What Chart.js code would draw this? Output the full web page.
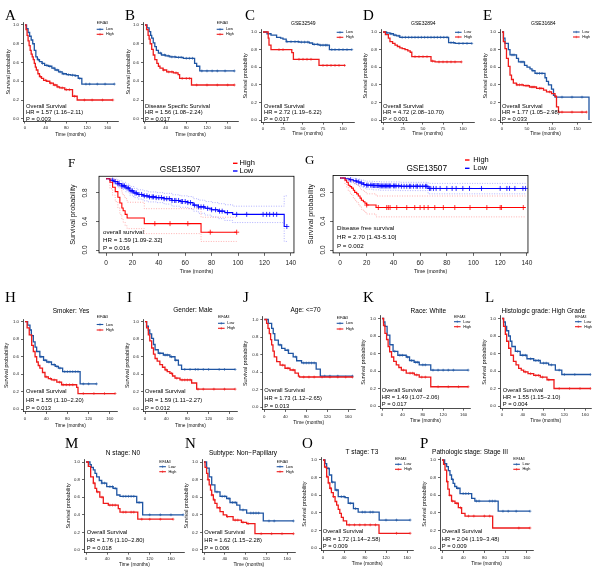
<!DOCTYPE html>
<html><head><meta charset="utf-8">
<script src="https://cdn.jsdelivr.net/npm/chart.js@4.4.1/dist/chart.umd.min.js"></script>
<style>
html,body{margin:0;padding:0;background:#fff;}
#wrap{position:relative;width:600px;height:573px;overflow:hidden;background:#fff;}
#wrap canvas{position:absolute;}
</style></head>
<body><div id="wrap"></div>
<script>
// ================= DATA =================
// Each curve: T = times (months), S = survival after that time, C = censor times
const A_lowT=[0,3,6,9,12,15,18,21,24,28,33,38,45,52,58,65,72,80,88,96,103,110,173];
const A_lowS=[1,0.96,0.92,0.88,0.84,0.80,0.73,0.66,0.63,0.61,0.59,0.57,0.56,0.54,0.52,0.50,0.48,0.47,0.465,0.46,0.43,0.37,0.37];
const A_lowC=[26,34,42,48,56,62,68,75,84,92,98,106,118,125,140,155,173];
const A_highT=[0,2,4,6,8,10,12,14,16,18,20,22,25,28,32,36,42,48,55,62,67,77,92,101,170];
const A_highS=[1,0.95,0.89,0.83,0.78,0.73,0.69,0.66,0.63,0.59,0.55,0.52,0.48,0.45,0.43,0.41,0.40,0.38,0.36,0.34,0.33,0.31,0.24,0.20,0.20];
const A_highC=[30,40,50,58,64,72,80,86,96,115,130,150,170];

const B_lowT=[0,4,8,11,13,16,19,22,26,32,40,48,60,74,96,100,106,173];
const B_lowS=[1,0.97,0.93,0.89,0.86,0.81,0.77,0.73,0.70,0.68,0.67,0.66,0.655,0.645,0.59,0.56,0.51,0.51];
const B_lowC=[30,38,45,52,58,65,70,80,86,92,110,120,130,140,155,173];
const B_highT=[0,3,6,8,10,13,16,19,23,26,29,35,42,55,64,67,90,173];
const B_highS=[1,0.95,0.89,0.85,0.80,0.74,0.68,0.63,0.59,0.56,0.54,0.52,0.50,0.49,0.47,0.43,0.36,0.36];
const B_highC=[36,46,52,60,72,80,86,100,120,140,160,173];

const C_lowT=[0,5,10,17,22,25,29,45,58,62,70,83,111];
const C_lowS=[1,0.98,0.965,0.94,0.93,0.92,0.89,0.885,0.875,0.86,0.85,0.80,0.80];
const C_lowC=[30,35,40,44,48,52,56,64,68,72,75,78,80,86,90,95,100,105,111];
const C_highT=[0,6.5,7.5,10,36,38,70,102.5];
const C_highS=[1,0.93,0.85,0.80,0.765,0.69,0.62,0.62];
const C_highC=[20,25,45,50,55,60,75,80,85,90,95,102];

const D_lowT=[0,4,8.7,13,17,21,82,90,111];
const D_lowS=[1,0.99,0.98,0.965,0.955,0.94,0.88,0.87,0.87];
const D_lowC=[5,10,15,20,24,28,32,36,40,44,48,52,56,60,64,68,72,76,80,85,88,95,100,105,111];
const D_highT=[0,3,6.7,8.7,12,15,18,21,24,27.5,31,34,36,60,65,98];
const D_highS=[1,0.97,0.93,0.89,0.87,0.85,0.835,0.82,0.81,0.80,0.785,0.77,0.72,0.67,0.66,0.66];
const D_highC=[40,45,50,55,62,70,75,80,85,90,98];

const E_lowT=[0,3,6,12.7,16,29,33,45,50,56,60,66,86,89,93,99,103,106,174];
const E_lowS=[1,0.93,0.87,0.80,0.74,0.70,0.66,0.62,0.60,0.58,0.56,0.53,0.48,0.44,0.40,0.35,0.28,0.26,0];
const E_lowC=[20,24,38,42,62,70,75,80,120,140,160];
const E_highT=[0,2.7,6,9,12.7,16,19,22.7,29,43,55,69,83,89,99,106,109,113,169];
const E_highS=[1,0.89,0.81,0.70,0.61,0.51,0.46,0.42,0.40,0.39,0.375,0.36,0.34,0.32,0.30,0.27,0.15,0.09,0.09];
const E_highC=[30,35,40,48,52,60,64,75,78,95,120,140,160,169];

// F / G : GSE13507 with confidence limits (U = upper, L = lower)
const F_lowT=[0,3,6,9,12,15,18,21,24,28,32,38,44,50,56,62,66,70,75,80,85,90,96,135,137];
const F_lowS=[1,0.98,0.96,0.93,0.90,0.87,0.83,0.80,0.78,0.76,0.745,0.735,0.72,0.695,0.68,0.665,0.63,0.605,0.585,0.565,0.545,0.525,0.50,0.33,0.33];
const F_lowU=[1,1,0.995,0.975,0.95,0.925,0.89,0.865,0.845,0.83,0.815,0.805,0.795,0.775,0.76,0.75,0.72,0.70,0.68,0.665,0.65,0.635,0.615,0.76,0.76];
const F_lowL=[1,0.955,0.925,0.885,0.85,0.815,0.77,0.735,0.715,0.69,0.675,0.665,0.645,0.615,0.60,0.58,0.545,0.515,0.49,0.465,0.44,0.415,0.385,0.12,0.12];
const F_lowC=[5,7,9,10,12,13,14,16,17,19,20,22,23,25,27,29,31,33,35,36,38,40,42,44,46,48,50,52,53,55,57,58,60,62,64,67,70,72,74,77,80,83,86,88,92,99,106.6,119,121.7,124,126.8,129.3,137];
const F_highT=[0,3,5,7,9,10.5,12,13,14.5,16,29,72,99];
const F_highS=[1,0.95,0.88,0.82,0.74,0.66,0.59,0.55,0.50,0.45,0.37,0.25,0.25];
const F_highU=[1,1,1,0.98,0.92,0.86,0.80,0.76,0.72,0.67,0.58,0.46,0.46];
const F_highL=[1,0.86,0.77,0.68,0.59,0.50,0.43,0.39,0.34,0.30,0.23,0.12,0.12];
const F_highC=[37,48.5,62,79,99];

const G_lowT=[0,4,7,10,12.5,15,17.5,20,25,30,45,66,139];
const G_lowS=[1,0.99,0.975,0.96,0.945,0.93,0.91,0.90,0.895,0.89,0.885,0.855,0.855];
const G_lowU=[1,1,1,0.995,0.985,0.975,0.96,0.955,0.95,0.945,0.94,0.925,0.925];
const G_lowL=[1,0.97,0.945,0.92,0.90,0.88,0.86,0.845,0.835,0.83,0.825,0.78,0.78];
const G_lowC=[8,12,14,16,18,20,21,23,24,25,26,27,28,29,30,31,32,33,34,35,36,37,38,40,41,42,44,46,48,50,52,53,55,57,58,60,62,64,65,67,68,70,72,75,80,84,87,92,97,106,120,125,127,131,137,139];
const G_highT=[0,3.7,5,6.2,7.5,8.7,10,11,12.5,13.7,15,16,17.5,18.7,20,27,139];
const G_highS=[1,0.97,0.94,0.90,0.88,0.86,0.83,0.80,0.78,0.75,0.72,0.69,0.67,0.65,0.625,0.59,0.59];
const G_highU=[1,1,1,0.99,0.975,0.96,0.94,0.92,0.90,0.88,0.86,0.835,0.815,0.80,0.78,0.75,0.75];
const G_highL=[1,0.91,0.87,0.82,0.79,0.76,0.72,0.69,0.66,0.63,0.60,0.565,0.54,0.52,0.50,0.46,0.46];
const G_highC=[20,28.7,35,36.2,37.5,42.5,50,56,60,63,66,71,77.4,86,97.4,110,120,121,137.3];

const H_lowT=[0,5,9.4,12,15.7,19,22,28,35,41,50,57,63,71,104,135];
const H_lowS=[1,0.96,0.905,0.84,0.77,0.71,0.66,0.60,0.56,0.54,0.51,0.49,0.47,0.43,0.29,0.29];
const H_lowC=[30,38,45,55,60,66,75,80,85,90,95,100,110,120,135];
const H_highT=[0,4,8,12.6,15.7,19,22,25,28,33,37.7,44,50,60,69,97.5,100,170];
const H_highS=[1,0.93,0.85,0.73,0.66,0.60,0.54,0.50,0.47,0.42,0.37,0.35,0.335,0.31,0.28,0.25,0.18,0.18];
const H_highC=[40,48,55,65,72,78,84,90,110,130,150,170];

const I_lowT=[0,3,6.3,9,12.6,16,19,25,34.6,47,56.6,63,69,170];
const I_lowS=[1,0.95,0.905,0.86,0.81,0.74,0.68,0.64,0.62,0.60,0.56,0.505,0.455,0.455];
const I_lowC=[28,38,42,50,58,75,85,95,100,110,120,140,150,170];
const I_highT=[0,3,6.3,9,12.6,16,19,23,28,33,37.7,42,47,52,56.6,66,88,97.5,170];
const I_highS=[1,0.93,0.85,0.78,0.70,0.63,0.58,0.55,0.51,0.48,0.45,0.43,0.41,0.38,0.355,0.335,0.30,0.23,0.23];
const I_highC=[40,50,60,70,75,80,85,100,110,130,150,170];

const J_lowT=[0,7.6,14,17,20,26.7,33,39.4,46,55,61.6,71,98.8,106.7,168];
const J_lowS=[1,0.955,0.90,0.84,0.765,0.71,0.67,0.65,0.615,0.575,0.53,0.505,0.435,0.355,0.355];
const J_lowC=[30,45,60,75,80,85,90,95,115,125,140,168];
const J_highT=[0,4.4,7,9.5,12,14,16.5,19,23.6,30,39.4,49,58.5,65,67,168];
const J_highS=[1,0.955,0.90,0.84,0.77,0.71,0.64,0.575,0.52,0.48,0.445,0.425,0.39,0.355,0.345,0.345];
const J_highC=[35,45,55,75,85,95,110,125,140,155,168];

const K_lowT=[0,3,5.8,10,15.4,21.7,31,47.5,54,63,73,95.6,169];
const K_lowS=[1,0.96,0.91,0.81,0.70,0.625,0.58,0.56,0.52,0.50,0.47,0.41,0.41];
const K_lowC=[25,35,40,50,58,66,70,80,85,100,110,120,130,140,169];
const K_highT=[0,3,5.8,9,12,15,18.7,23,28,33,38,47.5,63.5,73,95.6,169];
const K_highS=[1,0.92,0.83,0.76,0.68,0.62,0.56,0.51,0.47,0.44,0.41,0.375,0.355,0.33,0.22,0.22];
const K_highC=[42,55,60,68,78,85,110,130,150,169];

const L_lowT=[0,3,6.4,9,12.8,16,19,25.6,35,48,61,73.6,89.6,102.6,115,170];
const L_lowS=[1,0.96,0.91,0.86,0.80,0.74,0.68,0.625,0.58,0.54,0.52,0.49,0.47,0.41,0.36,0.36];
const L_lowC=[30,40,45,55,65,70,80,85,95,110,120,140,170];
const L_highT=[0,3,6.4,9,12.8,17,22,27,32,37,41.7,50,61,73.6,86.5,100,170];
const L_highS=[1,0.91,0.82,0.74,0.66,0.58,0.51,0.47,0.43,0.41,0.39,0.37,0.35,0.33,0.30,0.20,0.20];
const L_highC=[45,55,65,70,78,90,110,130,150,170];

const M_lowT=[0,7.5,10,13.8,17,20,25,29.6,39,51,58,64,95.5,106.7,183];
const M_lowS=[1,0.97,0.94,0.91,0.87,0.83,0.79,0.76,0.72,0.70,0.625,0.61,0.54,0.40,0.40];
const M_lowC=[30,35,45,50,55,70,75,80,85,90,100,120,140,160,183];
const M_highT=[0,4.4,8.8,13.8,17,20,26,32.6,42,60.8,64,97.5,164];
const M_highS=[1,0.95,0.83,0.76,0.70,0.66,0.60,0.53,0.51,0.47,0.43,0.35,0.35];
const M_highC=[15,22,30,45,50,55,70,75,85,90,105,120,140,164];

const N_lowT=[0,5,10,14.8,21,30.8,43.6,50,63,69,82,114,172];
const N_lowS=[1,0.93,0.83,0.74,0.66,0.61,0.585,0.54,0.51,0.455,0.42,0.33,0.33];
const N_lowC=[25,35,40,48,55,60,75,90,95,100,105,125,135,172];
const N_highT=[0,2,5,7.5,10,12.5,14.8,18,21,25,30.8,37,43.6,56,72,82,98,172];
const N_highS=[1,0.94,0.87,0.80,0.74,0.68,0.625,0.57,0.53,0.48,0.435,0.40,0.38,0.34,0.315,0.30,0.185,0.185];
const N_highC=[8,15,20,30,45,60,65,75,85,110,130,150,172];

const O_lowT=[0,4,7,12,16.5,23,29,42,48,58,67,107,166];
const O_lowS=[1,0.96,0.905,0.83,0.75,0.66,0.585,0.575,0.51,0.45,0.41,0.32,0.32];
const O_lowC=[10,18,26,35,40,52,62,75,80,90,95,120,140,166];
const O_highT=[0,3,7,10,13,16,19.6,23,26,29,32,35,38.7,45,106.7,166];
const O_highS=[1,0.92,0.81,0.74,0.68,0.63,0.585,0.53,0.49,0.44,0.395,0.35,0.31,0.265,0.17,0.17];
const O_highC=[5,8,11,14,20,50,60,70,80,90,100,140,166];

const P_lowT=[0,5,8.8,12,15,18,21,24,27.7,34,56,62,106,166];
const P_lowS=[1,0.96,0.925,0.88,0.83,0.78,0.735,0.70,0.68,0.62,0.565,0.535,0.42,0.42];
const P_lowC=[20,30,40,45,50,65,70,90,95,100,115,125,140,166];
const P_highT=[0,3,5.7,8.8,11,13.8,18,24.5,30.8,37,43.4,95.6,166];
const P_highS=[1,0.95,0.885,0.755,0.67,0.60,0.535,0.51,0.46,0.395,0.365,0.23,0.23];
const P_highC=[10,15,20,28,35,50,60,80,90,145,166];

// tick values and labels
const xTicks160=[0,40,80,120,160], xLabels160=['0','40','80','120','160'];
const xTicks100=[0,25,50,75,100], xLabels100=['0','25','50','75','100'];
const xTicks150=[0,50,100,150], xLabels150=['0','50','100','150'];
const xTicks140=[0,20,40,60,80,100,120,140], xLabels140=['0','20','40','60','80','100','120','140'];
const yTicksSmall=[0,0.2,0.4,0.6,0.8,1.0], yLabelsSmall=['0.0','0.2','0.4','0.6','0.8','1.0'];
const yTicksBig=[0,0.4,0.8], yLabelsBig=['0.0','0.4','0.8'];

// texts
const statsA=['Overall Survival','HR = 1.57 (1.16\u22122.11)','P = 0.003'];
const statsB=['Disease Specific Survival','HR = 1.56 (1.08\u22122.24)','P = 0.017'];
const statsC=['Overall Survival','HR = 2.72 (1.19\u22126.22)','P = 0.017'];
const statsD=['Overall Survival','HR = 4.72 (2.08\u221210.70)','P < 0.001'];
const statsE=['Overall Survival','HR = 1.77 (1.05\u22122.98)','P = 0.033'];
const statsF=['overall survival','HR = 1.59 [1.09-2.32]','P = 0.016'];
const statsG=['Disease free survival','HR = 2.70 [1.43-5.10]','P = 0.002'];
const statsH=['Overall Survival','HR = 1.55 (1.10\u22122.20)','P = 0.013'];
const statsI=['Overall Survival','HR = 1.59 (1.11\u22122.27)','P = 0.012'];
const statsJ=['Overall Survival','HR = 1.73 (1.12\u22122.65)','P = 0.013'];
const statsK=['Overall Survival','HR = 1.49 (1.07\u22122.06)','P = 0.017'];
const statsL=['Overall Survival','HR = 1.55 (1.15\u22122.10)','P = 0.004'];
const statsM=['Overall Survival','HR = 1.76 (1.10\u22122.80)','P = 0.018'];
const statsN=['Overall Survival','HR = 1.62 (1.15\u22122.28)','P = 0.006'];
const statsO=['Overall Survival','HR = 1.72 (1.14\u22122.58)','P = 0.009'];
const statsP=['Overall Survival','HR = 2.04 (1.19\u22123.48)','P = 0.009'];

// ================= STYLE / LAYOUT =================
const SANS="'Liberation Sans', Arial, Helvetica, sans-serif";
const SERIF="'Liberation Serif', 'Times New Roman', serif";
Chart.defaults.font.family=SANS;
const BLUE_GG='#1F55A3', RED_GG='#EE1B1B', BLUE_R='#0000FF', RED_R='#FF0000';

const panels=[
 {key:'A',kind:'gg',box:[0,0,120,140],x0:25,kx:0.519,y1:25,y0:118.75,xmax:180,xt:xTicks160,xl:xLabels160,letter:[5,20],ytX:8.3,xtY:134.5,
  leg:{x:96.7,ty:23.3,y1:29.3,y2:34.3},stats:{x:26,ys:[106,112.5,119]},txt:statsA,title:null,
  lo:[A_lowT,A_lowS,A_lowC],hi:[A_highT,A_highS,A_highC]},
 {key:'B',kind:'gg',box:[120,0,120,140],x0:145,kx:0.519,y1:25,y0:118.75,xmax:180,xt:xTicks160,xl:xLabels160,letter:[125,20],ytX:128.3,xtY:134.5,
  leg:{x:216.7,ty:23.3,y1:29.3,y2:34.3},stats:{x:145,ys:[106,112.5,119]},txt:statsB,title:null,
  lo:[B_lowT,B_lowS,B_lowC],hi:[B_highT,B_highS,B_highC]},
 {key:'C',kind:'gg',box:[240,0,120,140],x0:263,kx:0.8,y1:32,y0:120,xmax:114,xt:xTicks100,xl:xLabels100,letter:[245,20],ytX:246,xtY:134,
  leg:{x:336.7,ty:null,y1:32.3,y2:37.3},stats:{x:264,ys:[106,112.5,119]},txt:statsC,title:{text:'GSE32549',x:303.3,y:24,size:5},
  lo:[C_lowT,C_lowS,C_lowC],hi:[C_highT,C_highS,C_highC]},
 {key:'D',kind:'gg',box:[360,0,120,140],x0:383,kx:0.8,y1:32,y0:120,xmax:114,xt:xTicks100,xl:xLabels100,letter:[363,20],ytX:366,xtY:133.5,
  leg:{x:455,ty:null,y1:32.3,y2:37},stats:{x:383,ys:[106,112.5,119]},txt:statsD,title:{text:'GSE32894',x:423.3,y:24,size:5},
  lo:[D_lowT,D_lowS,D_lowC],hi:[D_highT,D_highS,D_highC]},
 {key:'E',kind:'gg',box:[480,0,120,140],x0:502,kx:0.5,y1:32,y0:120,xmax:178,xt:xTicks150,xl:xLabels150,letter:[483,20],ytX:486,xtY:133.5,
  leg:{x:573,ty:null,y1:32,y2:37},stats:{x:502,ys:[106,112.5,119]},txt:statsE,title:{text:'GSE31684',x:543.3,y:24,size:5},
  lo:[E_lowT,E_lowS,E_lowC],hi:[E_highT,E_highS,E_highC]},
 {key:'F',kind:'base',box:[60,150,240,130],x0:106,kx:1.32,y1:178.75,y0:250,xmin:-5.3,xmax:142.4,xt:xTicks140,xl:xLabels140,letter:[68,166.7],ytX:72.7,xtY:272,ypad:6.5,
  leg:{x:233,y1:163.3,y2:171,tx:239.5},stats:{x:103,ys:[232,240,248]},txt:statsF,title:{text:'GSE13507',x:180,y:170,size:8.3},
  lo:[F_lowT,F_lowS,F_lowC,F_lowU,F_lowL],hi:[F_highT,F_highS,F_highC,F_highU,F_highL]},
 {key:'G',kind:'base',box:[300,150,240,130],x0:340,kx:1.335,y1:178,y0:250,xmin:-5.2,xmax:140.8,xt:xTicks140,xl:xLabels140,letter:[305,164],ytX:311,xtY:272,ypad:2.5,
  leg:{x:465,y1:160,y2:168.3,tx:473.3},stats:{x:337,ys:[228.3,237.7,246.7]},txt:statsG,title:{text:'GSE13507',x:426.7,y:168.3,size:8.3},
  lo:[G_lowT,G_lowS,G_lowC,G_lowU,G_lowL],hi:[G_highT,G_highS,G_highC,G_highU,G_highL]},
 {key:'H',kind:'gg',box:[0,290,120,140],x0:25,kx:0.53,y1:321.7,y0:409.3,xmax:175,xt:xTicks160,xl:xLabels160,letter:[5,301.7],ytX:6.7,xtY:425.5,
  leg:{x:96.7,ty:317.5,y1:324.5,y2:330},stats:{x:26,ys:[391.7,400,408.3]},txt:statsH,title:{text:'Smoker: Yes',x:71,y:311.7,size:6.5},
  lo:[H_lowT,H_lowS,H_lowC],hi:[H_highT,H_highS,H_highC]},
 {key:'I',kind:'gg',box:[120,290,120,140],x0:145,kx:0.53,y1:321.7,y0:409.3,xmax:175,xt:xTicks160,xl:xLabels160,letter:[127,301.7],ytX:127.3,xtY:425.5,
  leg:{x:218,ty:317.3,y1:323.3,y2:328.3},stats:{x:145,ys:[391.7,400,408.3]},txt:statsI,title:{text:'Gender: Male',x:193,y:310,size:6.5},
  lo:[I_lowT,I_lowS,I_lowC],hi:[I_highT,I_highS,I_highC]},
 {key:'J',kind:'gg',box:[240,290,122,140],x0:264.3,kx:0.525,y1:319.5,y0:407.3,xmax:173,xt:xTicks160,xl:xLabels160,letter:[243,302],ytX:246,xtY:422.7,
  leg:{x:336.7,ty:318.3,y1:323.3,y2:329},stats:{x:264.3,ys:[390,398.3,406]},txt:statsJ,title:{text:'Age: <=70',x:305.5,y:310.7,size:6.5},
  lo:[J_lowT,J_lowS,J_lowC],hi:[J_highT,J_highS,J_highC]},
 {key:'K',kind:'gg',box:[360,290,120,140],x0:382,kx:0.51,y1:318.5,y0:406,xmax:174,xt:xTicks160,xl:xLabels160,letter:[363,301.7],ytX:363.3,xtY:421,
  leg:{x:454,ty:316.7,y1:321.7,y2:326.7},stats:{x:381.7,ys:[390,397.3,404.3]},txt:statsK,title:{text:'Race: White',x:428.3,y:311,size:6.5},
  lo:[K_lowT,K_lowS,K_lowC],hi:[K_highT,K_highS,K_highC]},
 {key:'L',kind:'gg',box:[480,290,120,140],x0:502,kx:0.52,y1:318.5,y0:406,xmax:172,xt:xTicks160,xl:xLabels160,letter:[485,301.7],ytX:484.3,xtY:421,
  leg:{x:575,ty:316.7,y1:321.7,y2:326.7},stats:{x:502.7,ys:[390,397.3,404.3]},txt:statsL,title:{text:'Histologic grade: High Grade',x:543.3,y:311,size:6.5},
  lo:[L_lowT,L_lowS,L_lowC],hi:[L_highT,L_highS,L_highC]},
 {key:'M',kind:'gg',box:[60,435,130,138],x0:86,kx:0.531,y1:462,y0:550,xmax:186,xt:xTicks160,xl:xLabels160,letter:[65,448],ytX:68.3,xtY:565,
  leg:{x:159.3,ty:461.7,y1:466.7,y2:471.7},stats:{x:86.7,ys:[532.3,540.5,548.3]},txt:statsM,title:{text:'N stage: N0',x:123,y:453,size:6.5},
  lo:[M_lowT,M_lowS,M_lowC],hi:[M_highT,M_highS,M_highC]},
 {key:'N',kind:'gg',box:[183,435,117,138],x0:204,kx:0.52,y1:462,y0:550,xmax:176,xt:xTicks160,xl:xLabels160,letter:[185,448],ytX:186.7,xtY:565,
  leg:{x:276.7,ty:461.7,y1:466.7,y2:471.7},stats:{x:204.3,ys:[532.3,540.5,548.3]},txt:statsN,title:{text:'Subtype: Non\u2212Papillary',x:243,y:453,size:6.5},
  lo:[N_lowT,N_lowS,N_lowC],hi:[N_highT,N_highS,N_highC]},
 {key:'O',kind:'gg',box:[300,435,120,138],x0:323,kx:0.525,y1:460,y0:548.3,xmax:172,xt:xTicks160,xl:xLabels160,letter:[302,448],ytX:305,xtY:564,
  leg:{x:395,ty:459.3,y1:464.3,y2:469.3},stats:{x:322.7,ys:[531.7,539.3,546.7]},txt:statsO,title:{text:'T stage: T3',x:362,y:452,size:6.5},
  lo:[O_lowT,O_lowS,O_lowC],hi:[O_highT,O_highS,O_highC]},
 {key:'P',kind:'gg',box:[418,435,122,138],x0:442,kx:0.53,y1:460,y0:548.3,xmax:172,xt:xTicks160,xl:xLabels160,letter:[420,448],ytX:425,xtY:564,
  leg:{x:513.3,ty:459.3,y1:464.3,y2:469.3},stats:{x:441.7,ys:[531.7,539.3,546.7]},txt:statsP,title:{text:'Pathologic stage: Stage III',x:470,y:452,size:6.5},
  lo:[P_lowT,P_lowS,P_lowC],hi:[P_highT,P_highS,P_highC]}
];

// ================= HELPERS =================
function stepAt(T,S,t){let v=S[0];for(let i=0;i<T.length;i++){if(T[i]<=t)v=S[i];else break;}return v;}
function pts(T,S){return T.map((t,i)=>({x:t,y:S[i]}));}
function cens(T,S,C){return C.map(t=>({x:t,y:stepAt(T,S,t)}));}

const wrap=document.getElementById('wrap');

function makePanel(p){
  const big=p.kind==='base';
  const st=big?{ytFont:7.2,xtFont:5.2,tick:6.5,tl:3,xpad:3.25,ypad:p.ypad,lw:1.1,cr:2.5,cw:0.8}
              :{ytFont:5.4,xtFont:4.8,tick:4.3,tl:2,xpad:2,ypad:2,lw:1.3,cr:1.4,cw:0.6};
  const ymin=big?-0.04:-0.03, ymax=big?1.035:1.03;
  const xmin=p.xmin!==undefined?p.xmin:-2/p.kx;
  const ky=p.y0-p.y1;
  const area={left:p.x0+xmin*p.kx,right:p.x0+p.xmax*p.kx,top:p.y1-(ymax-1)*ky,bottom:p.y0-ymin*ky};
  const W=area.left-(p.ytX-st.ytFont*0.6);
  const H=(p.xtY+st.xtFont*0.6)-area.bottom;
  const [bx,by,bw,bh]=p.box;
  const padding={left:area.left-bx-W,top:area.top-by,right:bx+bw-area.right,bottom:by+bh-area.bottom-H};

  const cv=document.createElement('canvas');
  cv.width=bw;cv.height=bh;
  cv.style.left=bx+'px';cv.style.top=by+'px';cv.style.width=bw+'px';cv.style.height=bh+'px';
  wrap.appendChild(cv);

  const cLo=big?BLUE_R:BLUE_GG, cHi=big?RED_R:RED_GG;
  const ds=[];
  const lineDs=(d,color,w,dash)=>({data:d,borderColor:color,borderWidth:w,borderDash:dash||[],stepped:true,pointRadius:0,fill:false,tension:0});
  const crossDs=(d,color)=>({data:d,showLine:false,pointStyle:'cross',pointRadius:st.cr,pointBorderColor:color,pointBorderWidth:st.cw,borderColor:color,pointHoverRadius:0});
  if(big){
    ds.push(lineDs(pts(p.hi[0],p.hi[3]),'rgba(255,0,0,0.45)',0.7,[1,1.5]));
    ds.push(lineDs(pts(p.hi[0],p.hi[4]),'rgba(255,0,0,0.45)',0.7,[1,1.5]));
    ds.push(lineDs(pts(p.lo[0],p.lo[3]),'rgba(0,0,255,0.45)',0.7,[1,1.5]));
    ds.push(lineDs(pts(p.lo[0],p.lo[4]),'rgba(0,0,255,0.45)',0.7,[1,1.5]));
  }
  ds.push(lineDs(pts(p.hi[0],p.hi[1]),cHi,st.lw));
  ds.push(lineDs(pts(p.lo[0],p.lo[1]),cLo,st.lw));
  ds.push(crossDs(cens(p.hi[0],p.hi[1],p.hi[2]),cHi));
  ds.push(crossDs(cens(p.lo[0],p.lo[1],p.lo[2]),cLo));

  const yT=big?yTicksBig:yTicksSmall, yL=big?yLabelsBig:yLabelsSmall;

  const annot={
    id:'annot'+p.key,
    afterDraw(chart){
      const ctx=chart.ctx;
      const T=(s,x,y,size,o={})=>{ctx.save();ctx.font=(o.weight||'')+' '+size+'px '+(o.family||SANS);ctx.fillStyle=o.color||'#000';
        ctx.textAlign=o.align||'left';ctx.textBaseline=o.base||'middle';ctx.fillText(s,x-bx,y-by);ctx.restore();};
      const seg=(x1,y1,x2,y2,c,w)=>{ctx.save();ctx.strokeStyle=c;ctx.lineWidth=w;ctx.beginPath();ctx.moveTo(x1-bx,y1-by);ctx.lineTo(x2-bx,y2-by);ctx.stroke();ctx.restore();};
      const a=chart.chartArea;
      if(big){ctx.save();ctx.strokeStyle='#000';ctx.lineWidth=0.8;ctx.strokeRect(a.left,a.top,a.right-a.left,a.bottom-a.top);ctx.restore();}
      // panel letter
      T(p.key,p.letter[0],p.letter[1],big?13:15,{family:SERIF,base:'alphabetic'});
      if(p.title) T(p.title.text,p.title.x,p.title.y,p.title.size,{align:'center'});
      // legend
      const lg=p.leg;
      if(big){
        seg(lg.x,lg.y1,lg.x+4.5,lg.y1,RED_R,1.4); T('High',lg.tx,lg.y1,7.5);
        seg(lg.x,lg.y2,lg.x+4.5,lg.y2,BLUE_R,1.4); T('Low',lg.tx,lg.y2,7.5);
      } else {
        if(lg.ty!==null) T('EIF4A3',lg.x,lg.ty,3.4);
        [[lg.y1,BLUE_GG,'Low'],[lg.y2,RED_GG,'High']].forEach(([yy,c,l])=>{
          seg(lg.x,yy,lg.x+6.6,yy,c,1.1);
          seg(lg.x+3.3,yy-1.2,lg.x+3.3,yy+1.2,c,0.6);
          T(l,lg.x+9.3,yy,3.8);
        });
      }
      // statistics
      p.txt.forEach((s,i)=>T(s,p.stats.x,p.stats.ys[i],big?6.2:5.8));
    }
  };

  new Chart(cv,{
    type:'line',
    data:{datasets:ds},
    options:{
      responsive:false,animation:false,devicePixelRatio:1,
      layout:{padding},
      events:[],
      plugins:{legend:{display:false},tooltip:{enabled:false},title:{display:false}},
      scales:{
        x:{type:'linear',min:xmin,max:p.xmax,
           afterBuildTicks:s=>{s.ticks=p.xt.map(v=>({value:v}));},
           afterFit:s=>{s.height=H;},
           border:{display:!big,color:'#000',width:0.7},
           grid:{display:true,drawOnChartArea:false,drawTicks:true,tickLength:st.tl,color:'#000',lineWidth:0.6},
           ticks:{font:{size:st.tick},color:'#222',padding:st.xpad,maxRotation:0,minRotation:0,autoSkip:false,callback:(v,i)=>p.xl[i]},
           title:{display:true,text:'Time (months)',font:{size:st.xtFont},color:'#111',padding:0}},
        y:{type:'linear',min:ymin,max:ymax,
           afterBuildTicks:s=>{s.ticks=yT.map(v=>({value:v}));},
           afterFit:s=>{s.width=W;},
           border:{display:!big,color:'#000',width:0.7},
           grid:{display:true,drawOnChartArea:false,drawTicks:true,tickLength:st.tl,color:'#000',lineWidth:0.6},
           ticks:big?{font:{size:st.tick},color:'#222',padding:st.ypad,minRotation:90,maxRotation:90,crossAlign:'center',autoSkip:false,callback:(v,i)=>yL[i]}
                    :{font:{size:st.tick},color:'#222',padding:st.ypad,autoSkip:false,callback:(v,i)=>yL[i]},
           title:{display:true,text:'Survival probability',font:{size:st.ytFont},color:'#111',padding:0}}
      }
    },
    plugins:[annot]
  });
}
panels.forEach(makePanel);
</script>
</body></html>
